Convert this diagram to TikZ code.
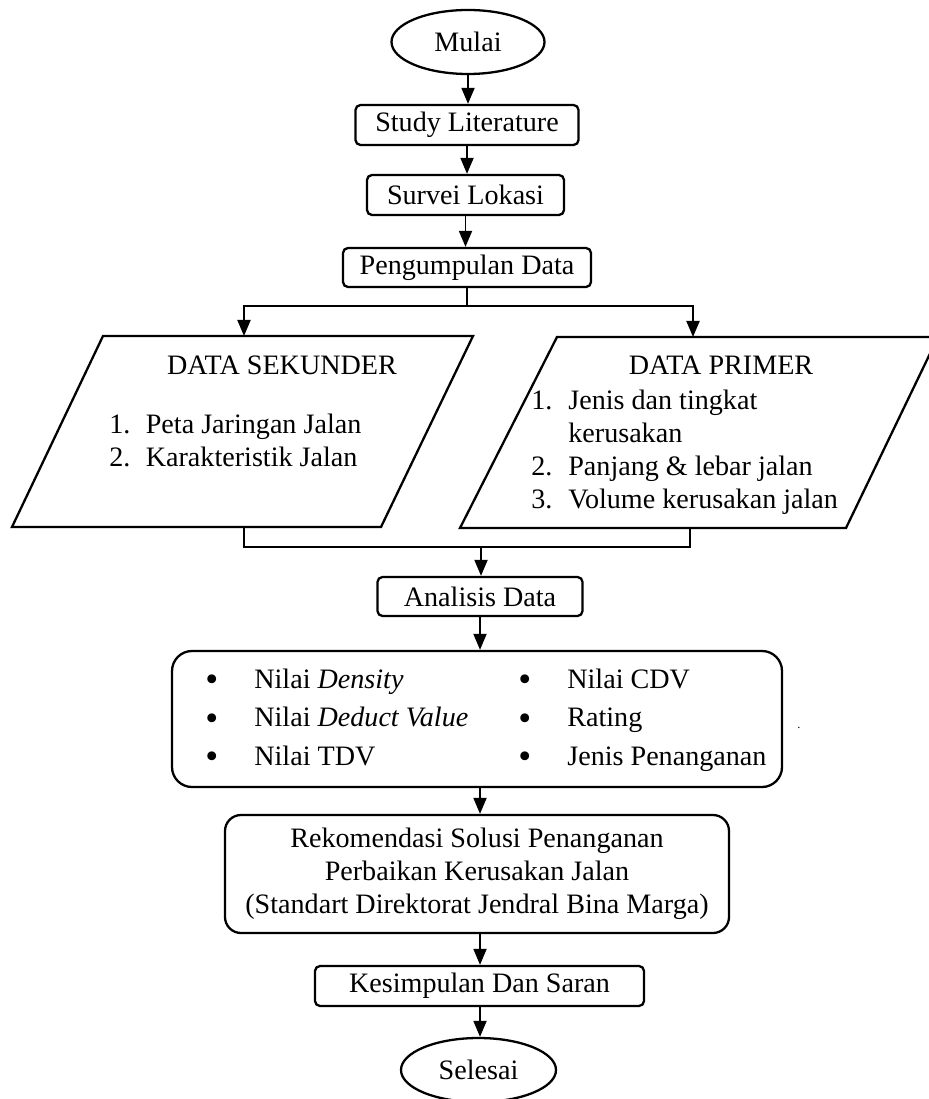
\documentclass[tikz,border=0pt]{standalone}
\usepackage{fontspec}
\setmainfont{Liberation Serif}
\usepackage{tikz}
\usetikzlibrary{shapes.geometric}
\usetikzlibrary{arrows.meta}

\newcommand{\titikbesar}{\raisebox{-2pt}{\fontsize{21}{18.8}\selectfont\textbullet}}

\tikzset{
    proc/.style={draw, line width=1.3pt, rounded corners=0.1cm, minimum height=0.8cm, inner sep=0pt},
    term/.style={draw, ellipse, line width=1.3pt, minimum width=3.06cm, minimum height=1.28cm, inner sep=0pt},
    arr/.style={line width=1.1pt, -{Triangle[length=0.32cm,width=0.26cm]}},
    conn/.style={line width=1.1pt},
    io/.style={line width=1.3pt, line join=miter}
}

\begin{document}
\begin{tikzpicture}[font=\fontsize{16}{18.8}\selectfont]
    \useasboundingbox (0,0) rectangle (18.56,-21.98);
    \node[term] (mulai) at (9.36,-0.84) {Mulai};
    \node[proc, minimum width=4.46cm] (study) at (9.34,-2.5) {Study Literature};
    \node[proc, minimum width=3.94cm] (survei) at (9.31,-3.9) {Survei Lokasi};
    \node[proc, minimum width=4.96cm, minimum height=0.78cm] (kumpul) at (9.34,-5.35) {Pengumpulan Data};
    % data sekunder / data primer
    \draw[io] (2.06,-6.72) -- (9.46,-6.72) -- (7.62,-10.54) -- (0.24,-10.54) -- cycle;
    \draw[io] (11.14,-6.74) -- (18.76,-6.74) -- (16.92,-10.56) -- (9.2,-10.56) -- cycle;
    \node (sekjudul) at (5.64,-7.3) {DATA SEKUNDER};
    \node[anchor=west, inner sep=0pt] (seklist) at (2.18,-8.87) {\begin{tabular}{@{}p{0.73cm}@{}l@{}}
        1. & Peta Jaringan Jalan\\
        2. & Karakteristik Jalan
    \end{tabular}};
    \node (primjudul) at (14.42,-7.3) {DATA PRIMER};
    \node[anchor=west, inner sep=0pt] (primlist) at (10.62,-9.05) {\begin{tabular}{@{}p{0.74cm}@{}l@{}}
        1. & Jenis dan tingkat\\
           & kerusakan\\
        2. & Panjang \& lebar jalan\\
        3. & Volume kerusakan jalan
    \end{tabular}};
    \coordinate (split) at (9.34,-6.12);
    \coordinate (sekin) at (4.88,-6.72);
    \coordinate (primin) at (13.86,-6.74);
    \coordinate (sekout) at (4.88,-10.54);
    \coordinate (primout) at (13.8,-10.56);
    \coordinate (merge) at (9.62,-10.94);
    \node[proc, minimum width=4.1cm, minimum height=0.78cm] (analisis) at (9.6,-11.93) {Analisis Data};
    \node[proc, rounded corners=0.4cm, minimum width=12.2cm, minimum height=2.72cm] (nilai) at (9.54,-14.38) {};
    \node[anchor=west, inner sep=0pt] (nilaiisi) at (4.1,-14.38) {\renewcommand{\arraystretch}{1.17}%
    \begin{tabular}{@{}p{0.98cm}@{}p{5.28cm}@{}p{0.98cm}@{}l@{}}
        \titikbesar & Nilai \textit{Density} & \titikbesar & Nilai CDV\\
        \titikbesar & Nilai \textit{Deduct Value} & \titikbesar & Rating\\
        \titikbesar & Nilai TDV & \titikbesar & Jenis Penanganan
    \end{tabular}};
    \node[inner sep=0pt, font=\fontsize{7}{8}\selectfont] (titik) at (15.98,-14.56) {.};
    \node[proc, rounded corners=0.32cm, minimum width=10.08cm, minimum height=2.36cm, align=center] (rekom) at (9.54,-17.48)
        {Rekomendasi Solusi Penanganan\\Perbaikan Kerusakan Jalan\\(Standart Direktorat Jendral Bina Marga)};
    \node[proc, minimum width=6.58cm] (simpul) at (9.59,-19.72) {Kesimpulan Dan Saran};
    \node[term, minimum width=3.1cm] (selesai) at (9.57,-21.4) {Selesai};

    \draw[arr] (mulai.south) -- (mulai.south |- study.north);
    \draw[arr] (study.south) -- (study.south |- survei.north);
    \draw[arr] (survei.south) -- (survei.south |- kumpul.north);
    \draw[conn] (kumpul.south) -- (split);
    \draw[arr] (split) -| (sekin);
    \draw[arr] (split) -| (primin);
    \draw[conn] (sekout) |- (merge) -| (primout);
    \draw[arr] (merge) -- (merge |- analisis.north);
    \draw[arr] (analisis.south) -- (analisis.south |- nilai.north);
    \draw[arr] (analisis.south |- nilai.south) -- (analisis.south |- rekom.north);
    \draw[arr] (analisis.south |- rekom.south) -- (analisis.south |- simpul.north);
    \draw[arr] (analisis.south |- simpul.south) -- (analisis.south |- selesai.north);
\end{tikzpicture}
\end{document}
